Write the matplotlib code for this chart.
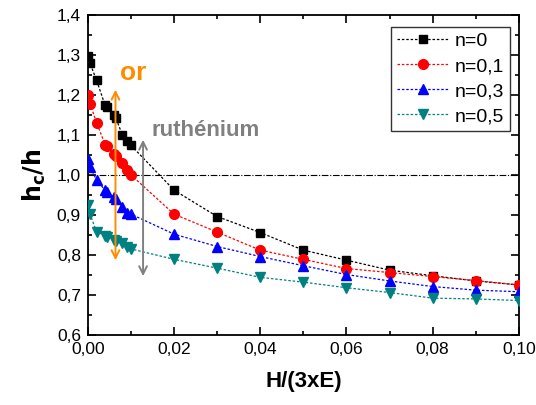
import matplotlib
matplotlib.use("Agg")
import matplotlib.pyplot as plt
from matplotlib.ticker import FuncFormatter, MultipleLocator

plt.rcParams['font.family'] = ['Liberation Sans', 'DejaVu Sans']

# H/(3xE) values
x = [0, 0.0005, 0.002, 0.004, 0.0045, 0.006, 0.0065, 0.008, 0.009, 0.01,
     0.02, 0.03, 0.04, 0.05, 0.06, 0.07, 0.08, 0.09, 0.10]

# hc/h for each hardening exponent
n0 = [1.297, 1.279, 1.237, 1.174, 1.171, 1.149, 1.142, 1.100, 1.085, 1.074,
      0.962, 0.896, 0.856, 0.812, 0.787, 0.762, 0.748, 0.735, 0.725]
n01 = [1.200, 1.178, 1.131, 1.076, 1.072, 1.052, 1.048, 1.029, 1.013, 1.000,
       0.902, 0.857, 0.812, 0.789, 0.766, 0.756, 0.746, 0.736, 0.725]
n03 = [1.040, 1.021, 0.987, 0.962, 0.958, 0.944, 0.940, 0.921, 0.906, 0.902,
       0.852, 0.821, 0.796, 0.773, 0.751, 0.735, 0.721, 0.712, 0.708]
n05 = [0.925, 0.902, 0.858, 0.848, 0.845, 0.838, 0.834, 0.829, 0.821, 0.815,
       0.789, 0.767, 0.744, 0.732, 0.718, 0.706, 0.692, 0.690, 0.686]

labels = ["n=0", "n=0,1", "n=0,3", "n=0,5"]

# material ranges (arrows)
or_x, or_range = 0.0064, (1.22, 0.78)
ru_x, ru_range = 0.0128, (1.095, 0.74)

fig = plt.figure(figsize=(5.36, 4.05), dpi=100)
ax = fig.add_axes([0.164, 0.173, 0.804, 0.79])

ax.axhline(1.0, color='black', lw=0.8, ls=(0, (6, 1.5, 1, 1.5)), zorder=1)

styles = [('black', 's', 5.8), ('red', 'o', 7), ('blue', '^', 7.5), ('#008080', 'v', 7.5)]
for y, lab, (c, m, ms) in zip([n0, n01, n03, n05], labels, styles):
    ax.plot(x, y, color=c, ls=(0, (2, 1.5)), lw=0.9, marker=m, ms=ms,
            mec=c, mfc=c, label=lab, zorder=3)

ax.annotate('', xy=(or_x, or_range[0]), xytext=(or_x, or_range[1]),
            arrowprops=dict(arrowstyle='<->', color='#ff8c00', lw=1.4,
                            mutation_scale=14), zorder=4)
ax.annotate('', xy=(ru_x, ru_range[0]), xytext=(ru_x, ru_range[1]),
            arrowprops=dict(arrowstyle='<->', color='#808080', lw=1.4,
                            mutation_scale=14), zorder=4)
ax.text(0.0106, 1.255, 'or', color='#ff8c00', fontsize=19, fontweight='bold',
        ha='center', va='center')
ax.text(0.0147, 1.112, 'ruthénium', color='#808080', fontsize=16,
        fontweight='bold', ha='left', va='center')

ax.set_xlim(0, 0.10)
ax.set_ylim(0.6, 1.4)
ax.xaxis.set_major_locator(MultipleLocator(0.02))
ax.xaxis.set_minor_locator(MultipleLocator(0.01))
ax.yaxis.set_major_locator(MultipleLocator(0.1))
ax.yaxis.set_minor_locator(MultipleLocator(0.05))
ax.xaxis.set_major_formatter(FuncFormatter(lambda v, p: f"{v:.2f}".replace('.', ',')))
ax.yaxis.set_major_formatter(FuncFormatter(lambda v, p: f"{v:.1f}".replace('.', ',')))
ax.tick_params(which='both', direction='in', top=True, right=True, width=1.2)
ax.tick_params(which='major', length=6, labelsize=12.5, pad=5)
ax.tick_params(which='minor', length=3)
for s in ax.spines.values():
    s.set_linewidth(1.3)

ax.set_xlabel('H/(3xE)', fontsize=16, fontweight='bold', labelpad=10)
ax.set_ylabel(r'$\mathbf{h_c/h}$', fontsize=17, labelpad=6)

leg = ax.legend(loc='upper right', bbox_to_anchor=(0.979, 0.963), fontsize=14,
                frameon=True, fancybox=False, edgecolor='black',
                handlelength=2.6, handletextpad=0.35, borderpad=0.3,
                labelspacing=0.38, borderaxespad=0)
leg.get_frame().set_linewidth(1.0)

fig.savefig('out.png', dpi=100)
